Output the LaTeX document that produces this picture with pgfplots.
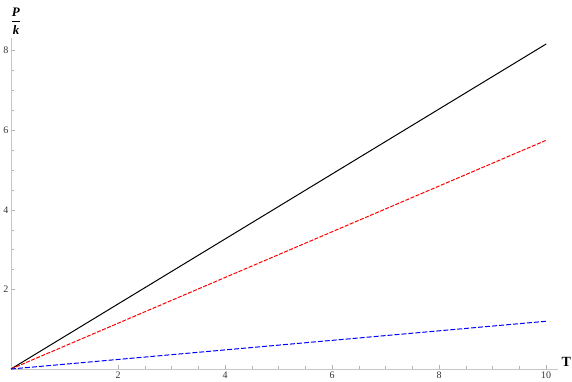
\documentclass[border=0pt]{standalone}
\usepackage{amsmath}
\usepackage{fontspec}
\setmainfont{Liberation Serif}
\usepackage{pgfplots}
\pgfplotsset{compat=1.18}

\begin{document}
\begin{tikzpicture}
  % fix the page to the reference size (1px = 1pt), axis origin at (0,0)
  \useasboundingbox (-11pt,-13pt) rectangle (561pt,369pt);
  \begin{axis}[
      anchor=origin, at={(0,0)},
      scale only axis, width=547pt, height=331pt,
      xmin=0, xmax=10.22, ymin=0, ymax=8.32,
      axis lines=middle,
      axis line style={black!22, -, line width=0.6pt},
      xtick={2,4,6,8,10}, ytick={2,4,6,8},
      minor tick num=3,
      tick align=inside,
      major tick length=4pt, minor tick length=2.5pt,
      every tick/.style={black!30, line width=0.5pt},
      tick label style={font=\fontsize{10}{12}\selectfont, text=black!80},
      /pgf/number format/assume math mode=true,
      xticklabel style={yshift=1pt},
      yticklabel style={xshift=1pt},
      xlabel={\fontsize{14}{16}\selectfont\textbf{T}},
      ylabel={\fontsize{13}{15}\selectfont$\displaystyle\genfrac{}{}{1pt}{}{\textbf{\textit{P}}}{\textbf{\textit{k}}}$},
      x label style={at={(axis description cs:1,0)}, anchor=west, xshift=0pt, yshift=7pt},
      y label style={at={(axis description cs:0,1)}, anchor=south, xshift=5pt, yshift=0pt},
      clip=false,
    ]
    \addplot[black, line width=1pt] coordinates {(0,0) (10,8.17)};
    \addplot[red, line width=1pt, dash pattern=on 4pt off 1.5pt] coordinates {(0,0) (10,5.75)};
    \addplot[blue, line width=1pt, dash pattern=on 5pt off 2pt] coordinates {(0,0) (10,1.2)};
  \end{axis}
\end{tikzpicture}
\end{document}
